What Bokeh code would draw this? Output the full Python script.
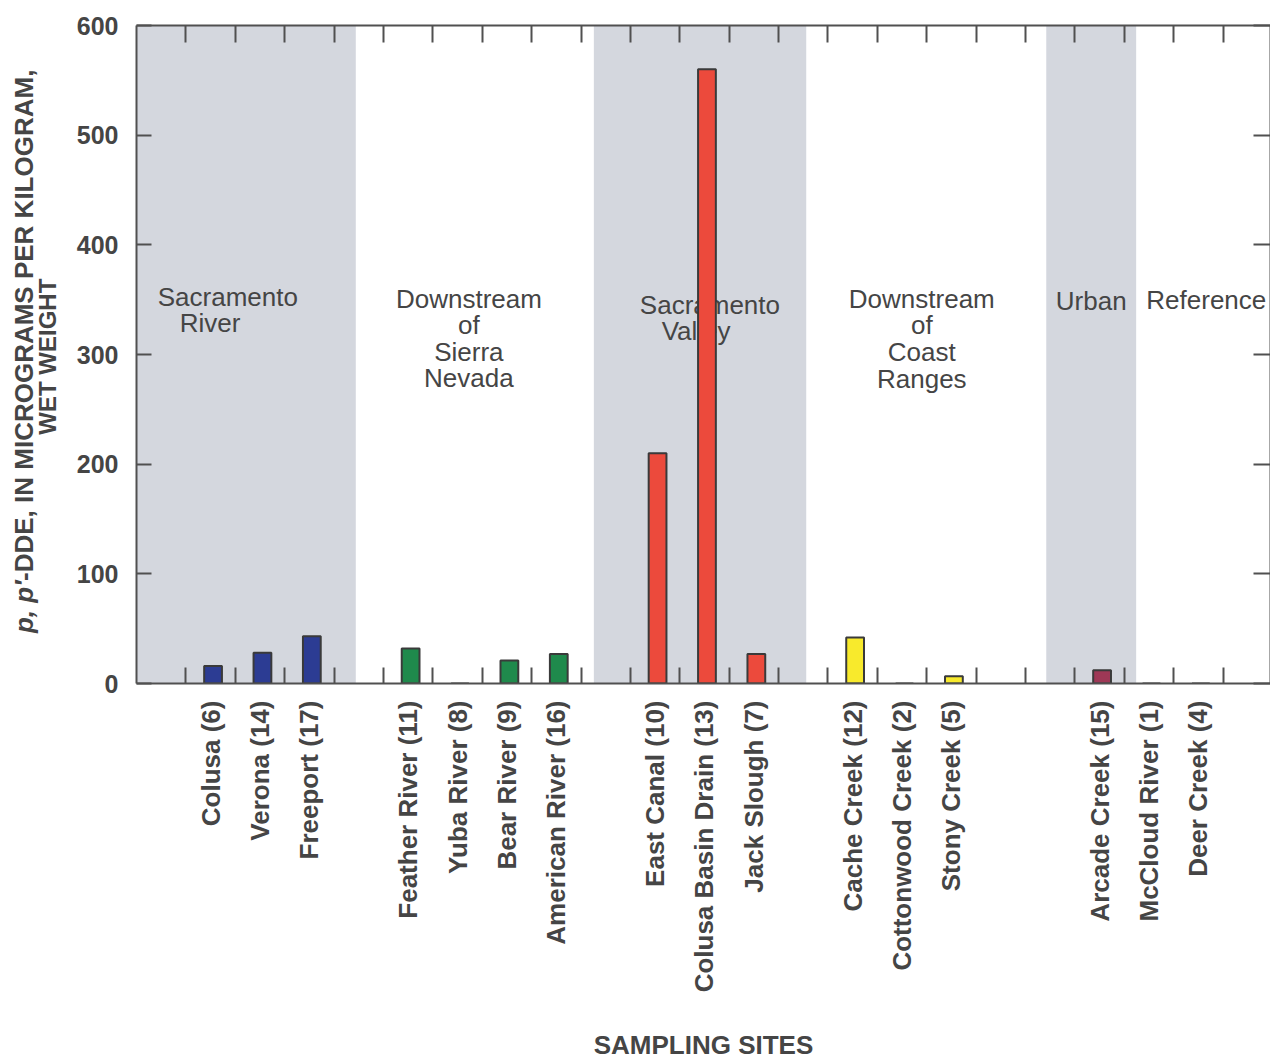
from math import pi
from bokeh.plotting import figure
from bokeh.layouts import row
from bokeh.models import Range1d, LinearAxis, FixedTicker, ColumnDataSource
from bokeh.core.properties import value
from bokeh.embed import file_html
from bokeh.resources import INLINE

# ---- data -------------------------------------------------------------
sites = ["Colusa (6)", "Verona (14)", "Freeport (17)",
         "Feather River (11)", "Yuba River (8)", "Bear River (9)", "American River (16)",
         "East Canal (10)", "Colusa Basin Drain (13)", "Jack Slough (7)",
         "Cache Creek (12)", "Cottonwood Creek (2)", "Stony Creek (5)",
         "Arcade Creek (15)",
         "McCloud River (1)", "Deer Creek (4)"]
slot = [1, 2, 3, 5, 6, 7, 8, 10, 11, 12, 14, 15, 16, 19, 20, 21]
dde = [16, 28, 43, 32, 0, 21, 27, 210, 560, 27, 42, 0, 6.5, 12, 0, 0]
group = ["river"] * 3 + ["sierra"] * 4 + ["valley"] * 3 + ["coast"] * 3 + ["urban"] + ["reference"] * 2
group_color = {"river": "#2c3c93", "sierra": "#1f8a4c", "valley": "#ec4a3c",
               "coast": "#f8ea2c", "urban": "#9e3856", "reference": "#888888"}

# shaded group extents (slot units)
band_left = [0, 9.26, 18.42]
band_right = [4.44, 13.56, 20.24]

# group titles (one entry per text line)
title_text = ["Sacramento", "River",
              "Downstream", "of", "Sierra", "Nevada",
              "Sacramento", "Valley",
              "Downstream", "of", "Coast", "Ranges",
              "Urban", "Reference"]
title_x = [1.85, 1.49, 6.73, 6.73, 6.73, 6.73, 11.61, 11.33,
           15.90, 15.90, 15.90, 15.90, 19.33, 21.66]
title_y = [352, 328.3, 351, 327.3, 302.7, 279, 344.7, 321,
           351, 327.3, 302.7, 278.1, 349.2, 350.1]

y_ticks = [0, 100, 200, 300, 400, 500, 600]
n_slots = 22

# y-axis title pieces (placed on the value scale of the main plot)
ylab_text = ["p, p\u2032", "-DDE, IN MICROGRAMS PER KILOGRAM,", "WET WEIGHT"]
ylab_style = ["bold italic", "bold", "bold"]
ylab_align = ["left", "left", "center"]
ylab_size = ["26px", "26px", "24px"]
ylab_x = [23, 23, 47]
ylab_y = [46, 93.5, 298]

# ---- style ------------------------------------------------------------
TXT = "#454545"
AX = "#505050"
FONT = "Liberation Sans"
H = 1064
LW = 64  # width of the y-title strip

# ---- y-title strip (frames of a row are aligned with the main plot) ----
t = figure(width=LW, height=H, x_range=Range1d(0, LW), y_range=Range1d(0, 600),
           output_backend="svg", toolbar_location=None,
           x_axis_type=None, y_axis_type=None,
           min_border_left=0, min_border_right=0, min_border_top=25,
           min_border_bottom=H - 25 - 658)
t.outline_line_color = None
t.text(x=ylab_x, y=ylab_y, text=ylab_text, angle=pi / 2,
       text_align=ylab_align, text_baseline="alphabetic",
       text_font=value(FONT), text_font_style=ylab_style,
       text_font_size=ylab_size, text_color=TXT)

# ---- main figure ------------------------------------------------------
p = figure(width=1270 - LW, height=H, x_range=Range1d(0, 22.96), y_range=Range1d(0, 600),
           output_backend="svg", toolbar_location=None,
           x_axis_type=None, y_axis_type=None,
           min_border_left=136 - LW, min_border_right=0, min_border_top=25,
           min_border_bottom=H - 25 - 658)
p.outline_line_color = None
p.background_fill_color = "white"

# shaded bands
p.quad(left=band_left, right=band_right, bottom=0, top=600,
       fill_color="#d4d7de", line_color=None)

# group titles (under the bars)
p.text(x=title_x, y=title_y, text=title_text, text_align="center",
       text_baseline="alphabetic", text_font=value(FONT),
       text_font_size="26px", text_color=TXT)

# bars
src = ColumnDataSource(dict(x=[s + 0.55 for s in slot], top=dde,
                            color=[group_color[g] for g in group]))
p.vbar(x="x", top="top", bottom=0, width=0.36, source=src,
       fill_color="color", line_color="#3a3a3a", line_width=2)

bounds = list(range(1, n_slots + 1))
centers = [s + 0.5 for s in slot]

def style_line(ax):
    ax.axis_line_color = AX
    ax.axis_line_width = 2
    ax.major_tick_line_color = AX
    ax.major_tick_line_width = 2
    ax.minor_tick_line_color = AX
    ax.minor_tick_line_width = 2

# bottom axis: labels at slot centres, ticks at slot bounds
xb = LinearAxis(ticker=FixedTicker(ticks=centers, minor_ticks=bounds),
                major_label_overrides={c: s for c, s in zip(centers, sites)})
style_line(xb)
xb.major_tick_line_color = None
xb.major_tick_out = 0
xb.major_tick_in = 0
xb.minor_tick_in = 16
xb.minor_tick_out = 0
xb.major_label_orientation = pi / 2
xb.major_label_standoff = 17
xb.major_label_text_font = FONT
xb.major_label_text_font_style = "bold"
xb.major_label_text_font_size = "26px"
xb.major_label_text_color = TXT
xb.axis_label = "SAMPLING SITES"
xb.axis_label_standoff = 35
xb.axis_label_text_font = FONT
xb.axis_label_text_font_style = "bold"
xb.axis_label_text_font_size = "26px"
xb.axis_label_text_color = TXT
p.add_layout(xb, "below")

# top axis: ticks only
xt = LinearAxis(ticker=FixedTicker(ticks=bounds, minor_ticks=[]))
style_line(xt)
xt.major_tick_in = 17
xt.major_tick_out = 0
xt.minor_tick_line_color = None
xt.major_label_text_color = None
xt.major_label_standoff = 0
p.add_layout(xt, "above")

# left axis
yl = LinearAxis(ticker=FixedTicker(ticks=y_ticks, minor_ticks=[]))
style_line(yl)
yl.major_tick_in = 15
yl.major_tick_out = 0
yl.minor_tick_line_color = None
yl.major_label_standoff = 18
yl.major_label_text_font = FONT
yl.major_label_text_font_style = "bold"
yl.major_label_text_font_size = "25px"
yl.major_label_text_color = TXT
p.add_layout(yl, "left")

# right axis: ticks only
yr = LinearAxis(ticker=FixedTicker(ticks=y_ticks, minor_ticks=[]))
style_line(yr)
yr.major_tick_in = 17
yr.major_tick_out = 0
yr.minor_tick_line_color = None
yr.major_label_text_color = None
yr.major_label_standoff = 0
p.add_layout(yr, "right")

layout = row(t, p, spacing=0)
open("out.html", "w").write(file_html(layout, INLINE))
